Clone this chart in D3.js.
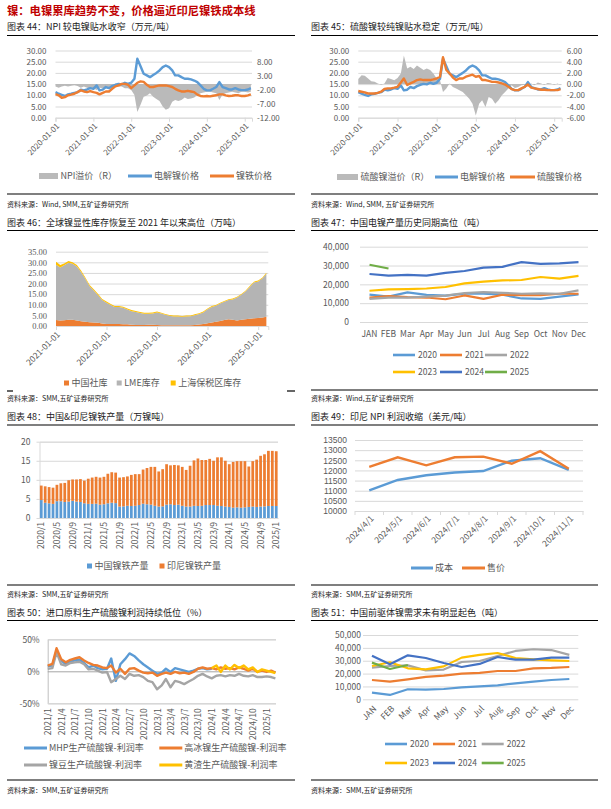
<!doctype html>
<html>
<head>
<meta charset="UTF-8">
<script src="https://d3js.org/d3.v7.min.js"></script>
<title></title>
<style>
  body { margin: 0; background: #fff; }
  text { font-family: "Noto Sans CJK SC", "DejaVu Sans", sans-serif; }
</style>
</head>
<body>
<div id="page"></div>
<script>
// ---------- data ----------
// fig 44 / 45 : monthly, 2020-01 .. 2025-03 (万元/吨)
var nickelPrice = [11.4,10.7,10.2,9.7,10.4,10.7,11.1,11.4,12.5,12.2,12.6,13.2,
  12.9,14.4,12.2,12.5,13.7,13.2,14.1,14.7,15.1,14.9,15.6,15.1,
  15.6,17.4,26.3,23.0,19.6,18.9,18.1,19.1,20.0,21.1,22.6,23.3,
  22.6,21.1,18.9,18.9,18.1,17.4,17.4,17.1,16.6,15.9,14.4,12.9,
  12.2,12.2,12.9,13.7,15.9,13.7,13.2,12.6,12.6,13.2,12.6,12.3,
  12.3,12.6,13.2];
var npiPrice = [10.5,10.0,8.9,9.2,10.0,10.3,10.7,11.4,12.2,11.7,11.4,11.9,
  11.4,11.1,10.4,11.1,11.7,11.7,12.9,14.0,14.4,15.1,15.1,14.7,
  13.2,14.4,15.6,16.2,16.0,14.7,13.7,13.7,14.1,14.4,14.4,14.4,
  14.1,13.7,12.9,12.2,11.7,11.7,12.0,11.7,11.4,10.3,9.7,9.5,
  9.7,9.5,9.8,10.0,10.4,10.4,10.0,9.7,9.8,10.0,10.0,9.7,
  9.7,10.0,10.4];
var npiPremium = [-0.9,-1.3,-0.9,-0.6,-0.9,-0.6,-0.4,-0.7,-1.3,-0.9,-1.3,-1.5,
  -1.5,-2.1,-1.3,-1.5,-1.5,-1.8,-1.3,-0.9,-0.9,-0.9,-1.5,-1.5,
  -2.1,-3.9,-10.0,-7.4,-4.5,-4.1,-3.3,-4.5,-5.3,-6.0,-8.0,-9.2,
  -8.6,-6.3,-5.7,-6.0,-5.7,-4.8,-5.3,-5.1,-4.8,-3.9,-3.3,-3.0,
  -2.7,-2.7,-3.0,-3.3,-5.7,-3.7,-3.3,-3.0,-2.7,-3.0,-3.3,-2.7,
  -2.7,-3.0,-2.7];
var sulfatePrice = [11.9,11.6,11.3,10.8,10.8,10.8,11.1,11.6,12.8,13.1,13.1,13.4,
  13.8,15.7,17.5,14.6,15.3,16.0,16.8,17.1,16.8,16.8,16.8,17.1,
  17.5,18.3,27.0,21.3,19.8,17.9,16.8,17.5,17.5,18.3,18.8,19.2,
  18.3,18.6,16.8,16.8,16.4,16.0,16.0,15.7,15.3,14.8,13.8,12.8,
  12.3,12.3,13.1,13.8,14.8,13.4,13.1,12.8,12.5,12.5,12.3,12.3,
  12.3,12.3,12.8];
var sulfatePremium = [0.9,1.6,1.5,1.0,0.5,0.4,0.1,-0.1,0.1,1.1,0.9,0.7,
  1.1,1.9,5.1,2.8,3.1,2.7,3.3,2.9,2.5,2.8,2.5,1.9,
  1.0,0.7,-1.4,-0.8,0.1,-0.5,-0.8,-1.1,-1.4,-2.0,-2.6,-3.5,
  -5.6,-3.5,-2.9,-4.1,-2.3,-2.6,-3.5,-2.9,-2.0,-1.4,-0.8,-0.2,
  -0.7,-0.5,-0.2,-0.1,-0.1,0.1,-0.2,0.3,0.1,-0.1,0.2,0.1,
  -0.1,0.1,-0.1];

// fig 46 : monthly, 2021-01 .. 2025-03 (万吨)
var stockChina = [2.8,2.6,2.7,3.0,3.0,2.6,2.2,2.0,1.8,1.6,1.5,1.2,
  0.9,0.9,1.0,0.9,0.8,0.8,0.6,0.5,0.5,0.5,0.6,0.6,
  0.5,0.4,0.3,0.3,0.3,0.3,0.3,0.3,0.4,0.5,0.7,0.9,
  1.3,1.6,2.0,2.4,2.8,3.2,3.0,2.6,2.9,3.2,3.4,3.6,
  3.8,4.0,4.4];
var stockLME = [26.0,24.9,25.9,26.8,26.3,25.4,23.2,20.2,16.9,15.1,13.0,11.0,
  10.1,9.0,7.9,8.0,7.8,7.0,6.4,6.1,5.6,5.3,5.2,5.3,
  5.9,5.5,5.0,4.5,4.2,4.2,4.0,4.2,4.2,4.6,4.9,5.5,
  6.6,7.4,7.5,8.2,8.6,9.0,9.5,10.8,11.8,13.0,15.0,16.9,
  17.2,18.5,20.2];
var stockBonded = [1.5,1.2,0.9,0.8,0.7,0.7,0.7,0.7,0.6,0.6,0.6,0.5,
  0.5,0.5,0.5,0.5,0.5,0.5,0.5,0.5,0.5,0.5,0.5,0.5,
  0.4,0.4,0.4,0.4,0.4,0.4,0.4,0.4,0.4,0.4,0.4,0.4,
  0.4,0.4,0.4,0.4,0.4,0.4,0.4,0.4,0.4,0.4,0.4,0.4,
  0.4,0.4,0.5];

// fig 47 : 中国电镍产量 (吨)
var monthNames = ["JAN","FEB","Mar","Apr","May","Jun","Jul","Aug","Sep","Oct","Nov","Dec"];
var elec2020 = [14500,13500,15700,14400,14000,15000,15000,14500,12500,12300,13500,14600];
var elec2021 = [13000,13700,13200,13000,12100,14100,12300,14500,14300,14300,15000,15000];
var elec2022 = [12300,13000,13000,13500,14000,15400,15900,15500,15000,15200,15000,16800];
var elec2023 = [16600,17300,17500,17800,18600,20500,21400,22100,22300,23900,23000,24500];
var elec2024 = [25500,24600,25000,24600,26100,27100,28900,29300,31800,30900,31100,31800];
var elec2025 = [30400,28400];

// fig 48 : monthly 2020/1 .. 2025/1 (万镍吨)
var npiChina = [4.7,4.0,3.85,3.7,4.4,4.4,4.2,4.3,4.5,4.3,4.2,3.85,
  3.7,3.7,3.75,3.5,3.6,3.85,4.0,3.9,3.0,3.05,3.2,3.15,
  3.2,3.4,3.75,3.6,3.5,3.2,3.0,3.05,3.5,3.6,3.4,3.5,
  3.2,3.0,3.0,3.2,3.15,3.2,3.4,3.4,3.4,3.2,3.15,3.0,
  2.9,2.7,2.8,2.7,2.8,2.9,3.0,2.9,3.0,3.05,3.15,3.15,
  3.15];
var npiIndo = [3.8,4.3,4.25,4.25,4.3,4.7,5.0,5.6,5.6,5.8,6.0,5.95,
  6.6,6.9,7.05,7.1,7.2,7.75,8.0,8.0,7.6,7.65,7.7,8.15,
  8.3,8.1,8.95,9.5,9.9,10.2,9.2,9.75,10.6,10.2,10.5,10.3,
  10.2,9.6,10.7,11.9,12.45,12.0,11.8,12.1,11.6,12.7,12.75,12.0,
  11.2,12.0,12.1,12.2,12.1,10.6,11.9,12.4,13.3,13.65,14.45,14.45,
  14.35];

// fig 49 : 印尼 NPI (美元/吨)
var npiMonths = ["2024/4/1","2024/5/1","2024/6/1","2024/7/1","2024/8/1","2024/9/1","2024/10/1","2024/11/1"];
var npiCost = [11020,11530,11760,11900,11970,12480,12600,12030];
var npiSell = [12180,12650,12250,12650,12680,12330,12950,12080];

// fig 50 : monthly 2021-01 .. 2025-03 (%)
var mhpMargin = [8,9,32,17,11,15,17,18,13,6,9,5,
  3,4,20,-15,11,19,28,24,17,11,6,1,
  -4,-2,4,-1,5,3,1,-1,1,4,5,3,
  4,null,null,null,null,null,null,null,null,null,null,null,
  null,null,null];
var matteMargin = [9,11.5,36,19,14,18,20,22,17,13,10,9,
  6,5,9,-2,4,-4,4,5,1,-2,-3,-2,
  -7,-4,-2,-4,-1,-3,-2,-4,-1,4,6,4,
  5,3,6,4,5,3,6,4,1,4,-1,1,
  -1,1,-2];
var beanMargin = [4,5,30,11,9,13,14,15,11,3,4,1,
  -2,-1,-17,-12,-7,-12,-4,-7,-6,-9,-15,-17,
  -28,-22,-12,-25,-15,-17,-20,-16,-12,-7,-4,-8,
  -11,-7,-6,-8,-6,-7,-4,-7,-8,-6,-9,-9,
  -8,-9,-11];
var slagMargin = [null,null,null,null,null,null,null,null,null,null,null,null,
  null,null,null,null,null,null,null,null,null,null,null,null,
  null,null,null,null,null,null,null,null,null,null,null,null,
  5,9,-1,9,3,10,5,9,3,6,-1,3,
  1,-1,-3];

// fig 51 : 前驱体镍需求 (吨)
var pre2020 = [5200,3400,7800,7500,8000,9300,10100,10900,12400,13700,15000,15800];
var pre2021 = [15000,13700,15500,17400,18400,19900,20500,22000,22000,24100,24400,25100];
var pre2022 = [24600,25900,26400,22500,23100,29000,29800,33700,37600,38900,38300,34500];
var pre2023 = [25900,28800,24100,23300,25600,32400,34500,36000,32100,31100,30300,29800];
var pre2024 = [33900,27200,34200,32100,28200,25100,27500,32900,30800,30800,32400,32400];
var pre2025 = [28500,23600,26700];

var yearNames = ["2020","2021","2022","2023","2024","2025"];
var yearColors = ["#5b9bd5","#ed7d31","#a5a5a5","#ffc000","#4472c4","#70ad47"];

// ---------- page ----------
var svg = d3.select("#page").append("svg").attr("width", 611).attr("height", 809);
var gridC = "#d9d9d9", labC = "#595959";

svg.append("text").attr("x", 7).attr("y", 14.5)
  .attr("font-size", 11.3).attr("font-weight", "bold").attr("fill", "#c00000")
  .text("镍：电镍累库趋势不变，价格逼近印尼镍铁成本线");

function frame(x0, x1, ty, ly, title) {
  svg.append("text").attr("x", x0).attr("y", ty).attr("font-size", 9).attr("fill", "#222").text(title);
  svg.append("line").attr("x1", x0).attr("x2", x1).attr("y1", ly).attr("y2", ly)
    .attr("stroke", "#000").attr("stroke-width", 1.2);
}
function rule(x0, x1, y) {
  svg.append("line").attr("x1", x0).attr("x2", x1).attr("y1", y).attr("y2", y)
    .attr("stroke", "#000").attr("stroke-width", 1.2);
}
function source(x, y, t) {
  svg.append("text").attr("x", x).attr("y", y).attr("font-size", 7).attr("fill", "#222").text(t);
}
function legLine(x, y, w, color, label, sw) {
  svg.append("line").attr("x1", x).attr("x2", x + w).attr("y1", y).attr("y2", y)
    .attr("stroke", color).attr("stroke-width", sw || 2.6);
  svg.append("text").attr("x", x + w + 2).attr("y", y + 3).attr("font-size", 9).attr("fill", labC).text(label);
}
function legBox(x, y, w, h, color, label) {
  svg.append("rect").attr("x", x).attr("y", y - h / 2).attr("width", w).attr("height", h).attr("fill", color);
  svg.append("text").attr("x", x + w + 2.5).attr("y", y + 3.2).attr("font-size", 9).attr("fill", labC).text(label);
}
function styleAxis(g, fs) {
  g.attr("font-size", fs || 8);
  g.selectAll(".tick text").attr("fill", labC);
  g.selectAll(".tick line").attr("stroke", gridC);
  g.select(".domain").attr("stroke", gridC);
}
function rotateLabels(g, dx, dy, deg) {
  g.selectAll(".tick text").attr("x", 0).attr("y", 0).attr("dy", "0.35em")
    .attr("text-anchor", "end")
    .attr("transform", "translate(" + dx + "," + dy + ") rotate(" + deg + ")");
}

frame(7, 295, 30, 35.5, "图表 44：NPI 较电镍贴水收窄（万元/吨）");
frame(311, 598, 30, 35.5, "图表 45：硫酸镍较纯镍贴水稳定（万元/吨）");
rule(7, 295, 194); rule(311, 598, 194);
source(7, 206.5, "资料来源：Wind, SMM,五矿证券研究所");
source(311, 206.5, "资料来源：Wind, SMM, 五矿证券研究所");

frame(7, 295, 225.5, 230.5, "图表 46：全球镍显性库存恢复至 2021 年以来高位（万吨）");
frame(311, 598, 225.5, 230.5, "图表 47：中国电镍产量历史同期高位（吨）");
rule(7, 13, 391); rule(287, 295, 391); rule(311, 598, 390);
source(7, 401, "资料来源：SMM,五矿证券研究所");
source(311, 401, "资料来源：Wind,五矿证券研究所");

frame(7, 295, 420, 425, "图表 48：中国&印尼镍铁产量（万镍吨）");
frame(311, 598, 420, 425, "图表 49：印尼 NPI 利润收缩（美元/吨）");
rule(7, 295, 585); rule(311, 598, 585);
source(7, 596.5, "资料来源：SMM,五矿证券研究所");
source(311, 596.5, "资料来源：SMM,五矿证券研究所");

frame(7, 295, 615.5, 620.5, "图表 50：进口原料生产硫酸镍利润持续低位（%）");
frame(311, 598, 615.5, 620.5, "图表 51：中国前驱体镍需求未有明显起色（吨）");
rule(7, 295, 780); rule(311, 598, 780);
source(7, 793, "资料来源：SMM,五矿证券研究所");
source(311, 793, "资料来源：SMM,五矿证券研究所");

// ---------- fig 44 / 45 ----------
var months63 = d3.timeMonth.range(new Date(2020, 0, 1), new Date(2025, 3, 1));
var yearTicks = d3.timeYear.range(new Date(2020, 0, 1), new Date(2025, 1, 1));

function premiumChart(x0, x1, rDom, rTicks, prem, priceB, colorB) {
  var top = 50.5, bot = 117.7;
  var x = d3.scaleTime().domain([new Date(2020, 0, 1), new Date(2025, 2, 12)]).range([x0, x1]);
  var yL = d3.scaleLinear().domain([0, 30]).range([bot, top]);
  var yR = d3.scaleLinear().domain(rDom).range([bot, top]);

  var gL = svg.append("g").attr("transform", "translate(" + x0 + ",0)")
    .call(d3.axisLeft(yL).tickValues(d3.range(0, 31, 5)).tickSize(-(x1 - x0)).tickPadding(9)
      .tickFormat(function(d) { return d.toFixed(2); }));
  styleAxis(gL); gL.select(".domain").remove();

  var gR = svg.append("g").attr("transform", "translate(" + x1 + ",0)")
    .call(d3.axisRight(yR).tickValues(rTicks).tickSize(0).tickPadding(5)
      .tickFormat(function(d) { return d.toFixed(2); }));
  styleAxis(gR); gR.select(".domain").remove();

  svg.append("path").datum(prem)
    .attr("fill", "#bababa")
    .attr("d", d3.area().x(function(d, i) { return x(months63[i]); })
      .y0(yR(0)).y1(function(d) { return yR(d); }));

  var gX = svg.append("g").attr("transform", "translate(0," + bot + ")")
    .call(d3.axisBottom(x).tickValues(yearTicks).tickSize(4).tickFormat(d3.timeFormat("%Y-%m-%d")));
  styleAxis(gX);
  rotateLabels(gX, 2, 7, -45);

  var line = function(arr) {
    return d3.line().x(function(d, i) { return x(months63[i]); }).y(function(d) { return yL(d); })(arr);
  };
  svg.append("path").attr("d", line(nickelPrice)).attr("fill", "none")
    .attr("stroke", "#5b9bd5").attr("stroke-width", 2.4).attr("stroke-linejoin", "round");
  svg.append("path").attr("d", line(priceB)).attr("fill", "none")
    .attr("stroke", colorB).attr("stroke-width", 2.4).attr("stroke-linejoin", "round");
}
premiumChart(55.5, 252, [-12, 12], [-12, -7, -2, 3, 8], npiPremium, npiPrice, "#ed7d31");
premiumChart(358.3, 561.7, [-6, 6], [-6, -4, -2, 0, 2, 4, 6], sulfatePremium, sulfatePrice, "#ed7d31");

legBox(39, 176, 19, 6, "#bababa", "NPI溢价（R）");
legLine(128, 176, 24, "#5b9bd5", "电解镍价格", 3);
legLine(210, 176, 24, "#ed7d31", "镍铁价格", 3);
legBox(337, 177, 21, 6, "#bababa", "硫酸镍溢价（R）");
legLine(435, 177, 23, "#5b9bd5", "电解镍价格", 3);
legLine(510, 177, 25, "#ed7d31", "硫酸镍价格", 3);

// ---------- fig 46 ----------
(function() {
  var months51 = d3.timeMonth.range(new Date(2021, 0, 1), new Date(2025, 3, 1));
  var x = d3.scaleTime().domain([new Date(2021, 0, 1), new Date(2025, 2, 15)]).range([56, 268.3]);
  var y = d3.scaleLinear().domain([0, 35]).range([326, 251.7]);
  var g = svg.append("g").attr("transform", "translate(56,0)")
    .call(d3.axisLeft(y).tickValues(d3.range(0, 36, 5)).tickSize(-(268.3 - 56)).tickPadding(9)
      .tickFormat(function(d) { return d.toFixed(2); }));
  styleAxis(g, 8.5); g.select(".domain").remove();
  g.selectAll(".tick text").style("font-family", "'Liberation Serif', serif");

  var rows = months51.map(function(m, i) {
    return { date: m, china: stockChina[i], lme: stockLME[i], bonded: stockBonded[i] };
  });
  var keys = ["china", "lme", "bonded"];
  var colors = { china: "#ed7d31", lme: "#b4b4b4", bonded: "#ffc000" };
  var series = d3.stack().keys(keys)(rows);
  svg.selectAll(".inv").data(series).enter().append("path")
    .attr("fill", function(d) { return colors[d.key]; })
    .attr("d", d3.area().x(function(d) { return x(d.data.date); })
      .y0(function(d) { return y(d[0]); }).y1(function(d) { return y(d[1]); }));

  var gX = svg.append("g").attr("transform", "translate(0,326)")
    .call(d3.axisBottom(x).tickValues(d3.timeYear.range(new Date(2021, 0, 1), new Date(2025, 1, 1)))
      .tickSize(4).tickFormat(d3.timeFormat("%Y-%m-%d")));
  styleAxis(gX, 8.5);
  rotateLabels(gX, 2, 7, -45);

  legBox(64, 383, 5, 5, "#ed7d31", "中国社库");
  legBox(116.7, 383, 5, 5, "#b4b4b4", "LME库存");
  legBox(170.7, 383, 5, 5, "#ffc000", "上海保税区库存");
})();

// ---------- fig 47 / 51 : year lines ----------
function yearChart(x0, x1, yTop, yBot, yMax, series, rotate) {
  var x = d3.scaleBand().domain(monthNames).range([x0, x1]);
  var y = d3.scaleLinear().domain([0, yMax]).range([yBot, yTop]);
  var g = svg.append("g").attr("transform", "translate(" + x0 + ",0)")
    .call(d3.axisLeft(y).ticks(yMax / 10000).tickSize(-(x1 - x0)).tickPadding(rotate ? 2 : 11)
      .tickFormat(function(d) { return d === 0 ? "0" : d3.format(",")(d); }));
  styleAxis(g, 8); g.select(".domain").remove();
  g.selectAll(".tick text").attr("font-size", 8.5);

  var gX = svg.append("g").attr("transform", "translate(0," + yBot + ")")
    .call(d3.axisBottom(x).tickSize(0).tickPadding(9));
  styleAxis(gX, 8.5); gX.select(".domain").remove();
  if (rotate) rotateLabels(gX, 3, 8, -45);

  var line = d3.line().x(function(d, i) { return x(monthNames[i]) + x.bandwidth() / 2; })
    .y(function(d) { return y(d); });
  series.forEach(function(s, k) {
    svg.append("path").attr("d", line(s)).attr("fill", "none")
      .attr("stroke", yearColors[k]).attr("stroke-width", 2.2).attr("stroke-linejoin", "round");
  });
}
yearChart(360, 588, 246.7, 322, 40000, [elec2020, elec2021, elec2022, elec2023, elec2024, elec2025], false);
yearChart(363, 578.3, 635, 699.3, 50000, [pre2020, pre2021, pre2022, pre2023, pre2024, pre2025], true);

function yearLegend(xs, y1, y2) {
  yearNames.forEach(function(n, k) {
    var col = k % 3, y = k < 3 ? y1 : y2;
    svg.append("line").attr("x1", xs[col]).attr("x2", xs[col] + 22).attr("y1", y).attr("y2", y)
      .attr("stroke", yearColors[k]).attr("stroke-width", 2.6);
    svg.append("text").attr("x", xs[col] + 25).attr("y", y + 3).attr("font-size", 8.5).attr("fill", labC).text(n);
  });
}
yearLegend([393, 440, 485], 355, 372);
yearLegend([385, 433, 481.7], 744, 763);

// ---------- fig 48 ----------
(function() {
  var months61 = d3.timeMonth.range(new Date(2020, 0, 1), new Date(2025, 1, 1));
  var fmt = d3.timeFormat("%Y/%-m");
  var cats = months61.map(fmt);
  var x = d3.scaleBand().domain(cats).range([39.5, 278]).paddingInner(0.3).paddingOuter(0.1);
  var y = d3.scaleLinear().domain([0, 20]).range([518, 441.7]);
  var g = svg.append("g").attr("transform", "translate(39.5,0)")
    .call(d3.axisLeft(y).tickValues(d3.range(0, 21, 5)).tickSize(-(278 - 39.5)).tickPadding(9));
  styleAxis(g, 8.5);
  g.selectAll(".tick line").attr("x1", -3);

  var rows = cats.map(function(c, i) { return { cat: c, china: npiChina[i], indo: npiIndo[i] }; });
  var series = d3.stack().keys(["china", "indo"])(rows);
  var colors = { china: "#5b9bd5", indo: "#ed7d31" };
  svg.selectAll(".npi").data(series).enter().append("g")
    .attr("fill", function(d) { return colors[d.key]; })
    .selectAll("rect").data(function(d) { return d; }).enter().append("rect")
    .attr("x", function(d) { return x(d.data.cat); })
    .attr("width", x.bandwidth())
    .attr("y", function(d) { return y(d[1]); })
    .attr("height", function(d) { return y(d[0]) - y(d[1]); });

  var gX = svg.append("g").attr("transform", "translate(0,518)")
    .call(d3.axisBottom(x).tickValues(cats.filter(function(c, i) { return i % 4 === 0; })).tickSize(0));
  styleAxis(gX, 8.5);
  rotateLabels(gX, 0, 4, -90);

  legBox(87, 566, 5, 5, "#5b9bd5", "中国镍铁产量");
  legBox(159.5, 566, 5, 5, "#ed7d31", "印尼镍铁产量");
})();

// ---------- fig 49 ----------
(function() {
  var x = d3.scaleBand().domain(npiMonths).range([355, 583]);
  var y = d3.scaleLinear().domain([10000, 13500]).range([511, 440]);
  var g = svg.append("g").attr("transform", "translate(355,0)")
    .call(d3.axisLeft(y).tickValues(d3.range(10000, 13501, 500)).tickSize(-(583 - 355)).tickPadding(8)
      .tickFormat(d3.format("d")));
  styleAxis(g, 8.5); g.select(".domain").remove();
  g.selectAll(".tick text").style("font-family", "'Liberation Sans', Arial, sans-serif");

  var gX = svg.append("g").attr("transform", "translate(0,511)")
    .call(d3.axisBottom(x).tickSize(0));
  styleAxis(gX, 8.5);
  rotateLabels(gX, 3, 6, -45);
  svg.selectAll(".b49").data(d3.range(npiMonths.length + 1)).enter().append("line")
    .attr("x1", function(i) { return 355 + i * x.step(); }).attr("x2", function(i) { return 355 + i * x.step(); })
    .attr("y1", 511).attr("y2", 515).attr("stroke", gridC);

  var line = d3.line().x(function(d, i) { return x(npiMonths[i]) + x.bandwidth() / 2; })
    .y(function(d) { return y(d); });
  svg.append("path").attr("d", line(npiCost)).attr("fill", "none").attr("stroke", "#5b9bd5").attr("stroke-width", 2.4);
  svg.append("path").attr("d", line(npiSell)).attr("fill", "none").attr("stroke", "#ed7d31").attr("stroke-width", 2.4);

  legLine(411, 568, 22, "#5b9bd5", "成本", 3);
  legLine(462, 568, 23, "#ed7d31", "售价", 3);
})();

// ---------- fig 50 ----------
(function() {
  var months51 = d3.timeMonth.range(new Date(2021, 0, 1), new Date(2025, 3, 1));
  var x = d3.scaleTime().domain([new Date(2021, 0, 1), new Date(2025, 2, 5)]).range([47.7, 276]);
  var y = d3.scaleLinear().domain([-50, 50]).range([703.3, 639.3]);
  var g = svg.append("g").attr("transform", "translate(47.7,0)")
    .call(d3.axisLeft(y).tickValues([-50, 0, 50]).tickSize(-(276 - 47.7)).tickPadding(8)
      .tickFormat(function(d) { return d + "%"; }));
  styleAxis(g, 8.5);
  g.select(".domain").attr("stroke", "#bfbfbf");
  g.selectAll(".tick line").attr("stroke", function(d) { return d === 0 ? "#a6a6a6" : gridC; });

  var gX = svg.append("g").attr("transform", "translate(0,703.3)")
    .call(d3.axisBottom(x).tickValues(d3.timeMonth.every(3).range(new Date(2021, 0, 1), new Date(2025, 1, 2)))
      .tickSize(0).tickFormat(d3.timeFormat("%Y/%-m")));
  styleAxis(gX, 8.5); gX.select(".domain").remove();
  rotateLabels(gX, 0, 5, -90);

  var line = d3.line().defined(function(d) { return d !== null; })
    .x(function(d, i) { return x(months51[i]); }).y(function(d) { return y(d); });
  [[mhpMargin, "#5b9bd5"], [beanMargin, "#a5a5a5"], [matteMargin, "#ed7d31"], [slagMargin, "#ffc000"]]
    .forEach(function(s) {
      svg.append("path").attr("d", line(s[0])).attr("fill", "none")
        .attr("stroke", s[1]).attr("stroke-width", 2.4).attr("stroke-linejoin", "round");
    });

  legLine(24, 748, 23, "#5b9bd5", "MHP生产硫酸镍-利润率", 3);
  legLine(159.3, 748, 23, "#ed7d31", "高冰镍生产硫酸镍-利润率", 3);
  legLine(24, 765, 23, "#a5a5a5", "镍豆生产硫酸镍-利润率", 3);
  legLine(159.3, 765, 23, "#ffc000", "黄渣生产硫酸镍-利润率", 3);
})();
</script>
</body>
</html>
